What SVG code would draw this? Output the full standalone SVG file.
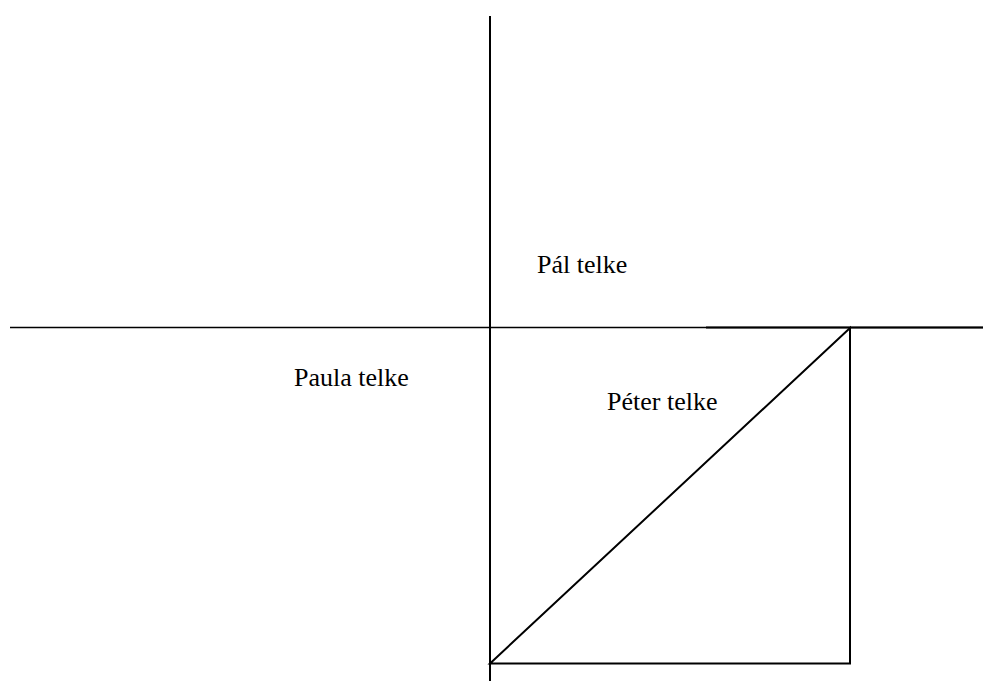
<svg xmlns="http://www.w3.org/2000/svg" width="983" height="681" viewBox="0 0 983 681">
<style>
.ln{stroke:#000;stroke-width:2;fill:none}
.t{font-family:"Liberation Serif","Times New Roman",serif;font-size:26px;fill:#000}
</style>
<rect width="983" height="681" fill="#fff"/>
<g id="connectors">
<line class="ln" x1="490" y1="16" x2="490" y2="681"/>
<line class="ln" x1="10" y1="327.5" x2="983" y2="327.5" style="stroke-width:1.6"/>
<line class="ln" x1="706" y1="327.5" x2="983" y2="327.5"/>
<polygon class="ln" points="850,328 490,663.5 850,663.5"/>
</g>
<g id="pal"><text class="t" x="537" y="273">Pál telke</text></g>
<g id="paula"><text class="t" x="294" y="386">Paula telke</text></g>
<g id="peter"><text class="t" x="607" y="410">Péter telke</text></g>
</svg>
